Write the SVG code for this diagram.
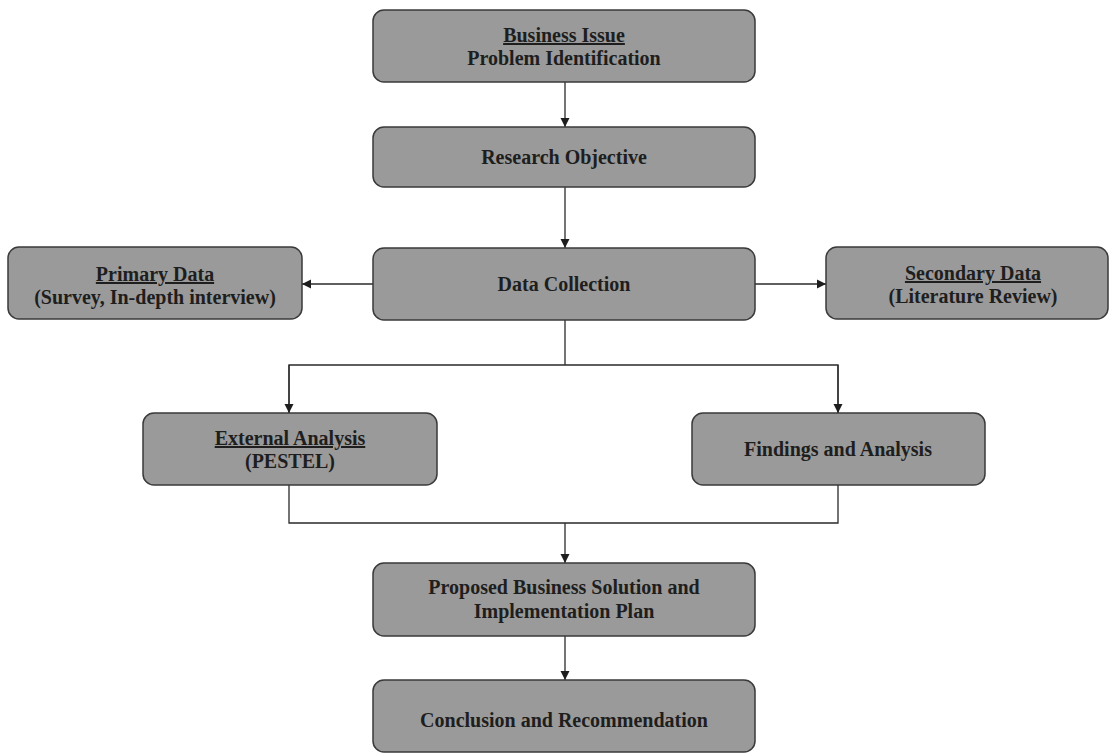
<svg xmlns="http://www.w3.org/2000/svg" width="1110" height="755" viewBox="0 0 1110 755">
<style>
.box{fill:#9a9a9a;stroke:#3a3a3a;stroke-width:1.5}
.t{font-family:"Liberation Serif","Times New Roman",serif;font-weight:bold;font-size:20px;fill:#1e1e1e;text-anchor:middle}
.u{text-decoration:underline}
.c{fill:none;stroke:#2a2a2a;stroke-width:1.3}
</style>
<defs>
<marker id="ah" viewBox="0 0 10 10" refX="10" refY="5" markerWidth="9" markerHeight="10" markerUnits="userSpaceOnUse" orient="auto">
<path d="M0,0 L10,5 L0,10 z" fill="#1e1e1e"/>
</marker>
</defs>
<rect width="1110" height="755" fill="#ffffff"/>
<g id="connectors">
<line class="c" x1="565" y1="82" x2="565" y2="127" marker-end="url(#ah)"/>
<line class="c" x1="565" y1="187" x2="565" y2="248" marker-end="url(#ah)"/>
<line class="c" x1="373" y1="284" x2="302" y2="284" marker-end="url(#ah)"/>
<line class="c" x1="755" y1="284" x2="826" y2="284" marker-end="url(#ah)"/>
<polyline class="c" points="565,320 565,365"/>
<polyline class="c" points="289,413 289,365 838,365 838,413"/>
<line class="c" x1="289" y1="365" x2="289" y2="413" marker-end="url(#ah)"/>
<line class="c" x1="838" y1="365" x2="838" y2="413" marker-end="url(#ah)"/>
<polyline class="c" points="289,485 289,523 838,523 838,485"/>
<line class="c" x1="565" y1="523" x2="565" y2="563" marker-end="url(#ah)"/>
<line class="c" x1="565" y1="636" x2="565" y2="680" marker-end="url(#ah)"/>
</g>
<g id="business-issue">
<rect class="box" x="373" y="10" width="382" height="72" rx="11"/>
<text class="t u" x="564" y="42">Business Issue</text>
<text class="t" x="564" y="65">Problem Identification</text>
</g>
<g id="research-objective">
<rect class="box" x="373" y="127" width="382" height="60" rx="11"/>
<text class="t" x="564" y="164">Research Objective</text>
</g>
<g id="data-collection">
<rect class="box" x="373" y="248" width="382" height="72" rx="11"/>
<text class="t" x="564" y="291">Data Collection</text>
</g>
<g id="primary-data">
<rect class="box" x="8" y="247" width="294" height="72" rx="11"/>
<text class="t u" x="155" y="281">Primary Data</text>
<text class="t" x="155" y="304">(Survey, In-depth interview)</text>
</g>
<g id="secondary-data">
<rect class="box" x="826" y="247" width="282" height="72" rx="11"/>
<text class="t u" x="973" y="280">Secondary Data</text>
<text class="t" x="973" y="303">(Literature Review)</text>
</g>
<g id="external-analysis">
<rect class="box" x="143" y="413" width="294" height="72" rx="11"/>
<text class="t u" x="290" y="445">External Analysis</text>
<text class="t" x="290" y="468">(PESTEL)</text>
</g>
<g id="findings">
<rect class="box" x="692" y="413" width="293" height="72" rx="11"/>
<text class="t" x="838" y="456">Findings and Analysis</text>
</g>
<g id="proposed-solution">
<rect class="box" x="373" y="563" width="382" height="73" rx="11"/>
<text class="t" x="564" y="594">Proposed Business Solution and</text>
<text class="t" x="564" y="618">Implementation Plan</text>
</g>
<g id="conclusion">
<rect class="box" x="373" y="680" width="382" height="72" rx="11"/>
<text class="t" x="564" y="727">Conclusion and Recommendation</text>
</g>
</svg>
